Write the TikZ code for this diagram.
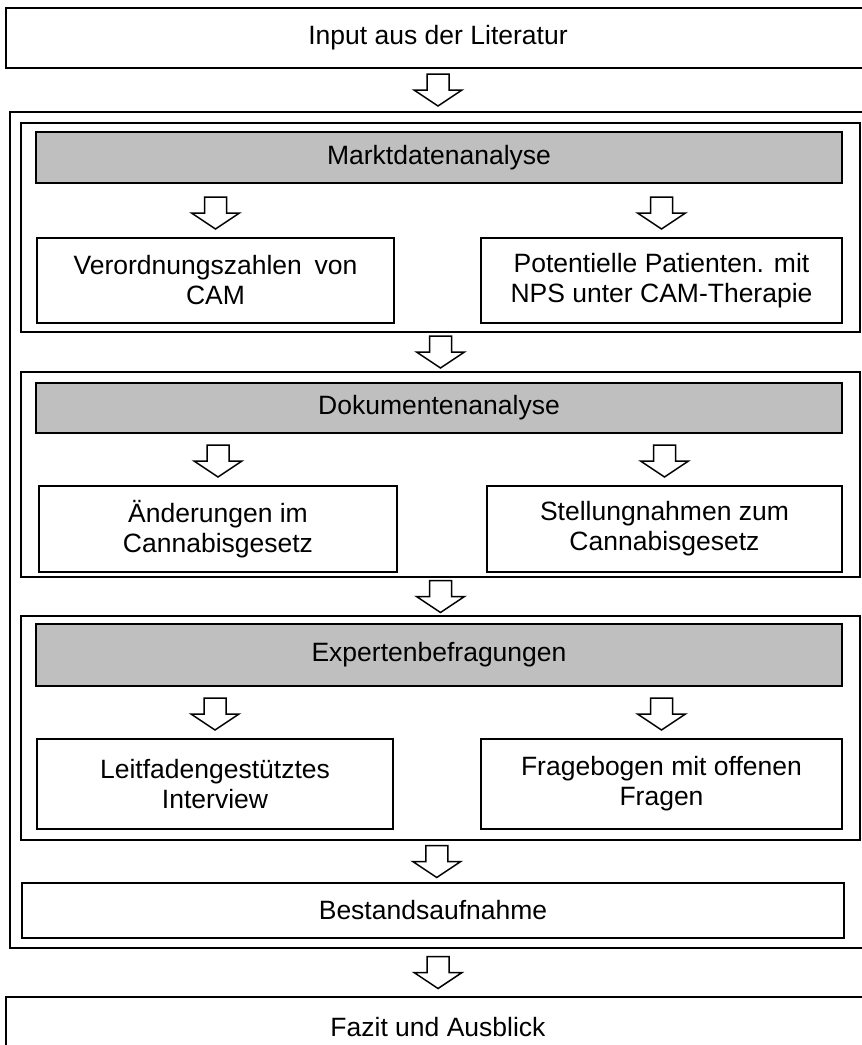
\documentclass[tikz,border=0pt]{standalone}
\usepackage{fontspec}
\setmainfont{Liberation Sans}
\usepackage{tikz}
\usetikzlibrary{calc,positioning}
\definecolor{cgrey}{RGB}{191,191,191}
\tikzset{
  box/.style={rectangle,draw=black,fill=white,line width=2pt,align=center,
    inner sep=0pt,font=\fontsize{26.5}{30}\selectfont},
  greybox/.style={box,fill=cgrey},
  % frames around each analysis step
  grpframe/.style={rectangle,draw=black,line width=2pt,inner sep=0pt},
  arrline/.style={draw=black,fill=white,line width=1.5pt,line join=miter},
  hollowarr/.pic={\path[arrline] (-11,-16) -- (11,-16) -- (11,0) -- (24,0)
    -- (0,16) -- (-24,0) -- (-11,0) -- cycle;}
}
\begin{document}
\begin{tikzpicture}[x=1pt,y=-1pt]
  \useasboundingbox (0,0) rectangle (862,1045);
  \clip (0,0) rectangle (862,1045);
  % outer frame and the three groups
  \node[grpframe,minimum width=856,minimum height=836] (outer) at (438,530) {};
  \node[grpframe,minimum width=839,minimum height=209] (fm) at (440.5,227.5) {};
  \node[grpframe,minimum width=839,minimum height=205] (fd) at (440.5,474.5) {};
  \node[grpframe,minimum width=839,minimum height=224] (fe) at (440.5,728) {};

  \node[box,minimum width=864,minimum height=60] (input) at (438,38) {Input aus der Literatur};

  \node[greybox,minimum width=806,minimum height=51] (gm) at (439,157.5) {Marktdatenanalyse};
  \node[box,minimum width=357,minimum height=85] (m1) at (215.5,280.5)
    {Verordnungszahlen\hspace{0.2em} von\\CAM};
  \node[box,minimum width=361,minimum height=85] (m2) at (661.5,280.5)
    {Potentielle Patienten. mit\\NPS unter CAM-Therapie};

  \node[greybox,minimum width=806,minimum height=50] (gd) at (439,408) {Dokumentenanalyse};
  \node[box,minimum width=358,minimum height=86] (d1) at (218,529)
    {Änderungen im\\Cannabisgesetz};
  \node[box,minimum width=355,minimum height=86] (d2) at (664.5,529)
    {Stellungnahmen zum\\Cannabisgesetz};

  \node[greybox,minimum width=806,minimum height=62] (ge) at (439,655) {Expertenbefragungen};
  \node[box,minimum width=356,minimum height=90] (e1) at (215,784)
    {Leitfadengestütztes\\Interview};
  \node[box,minimum width=361,minimum height=90] (e2) at (661.5,784)
    {Fragebogen mit offenen\\Fragen};

  \node[box,minimum width=822,minimum height=55] (best) at (433,910.5) {Bestandsaufnahme};
  \node[box,minimum width=864,minimum height=60] (fazit) at (438,1027) {Fazit und Ausblick};

  % block arrows
  \pic at ($(input.south)!0.5!(outer.north)$) {hollowarr};
  \pic at ($(fm.south)!0.5!(fd.north)$) {hollowarr};
  \pic at ($(fd.south)!0.5!(fe.north)$) {hollowarr};
  \pic at ($(fe.south)!0.5!(best.north)$) {hollowarr};
  \pic at ($(outer.south)!0.5!(fazit.north)$) {hollowarr};
  \foreach \b in {m1,m2,d1,d2,e1,e2}
    \pic at ([yshift=24pt]\b.north) {hollowarr};
\end{tikzpicture}
\end{document}
